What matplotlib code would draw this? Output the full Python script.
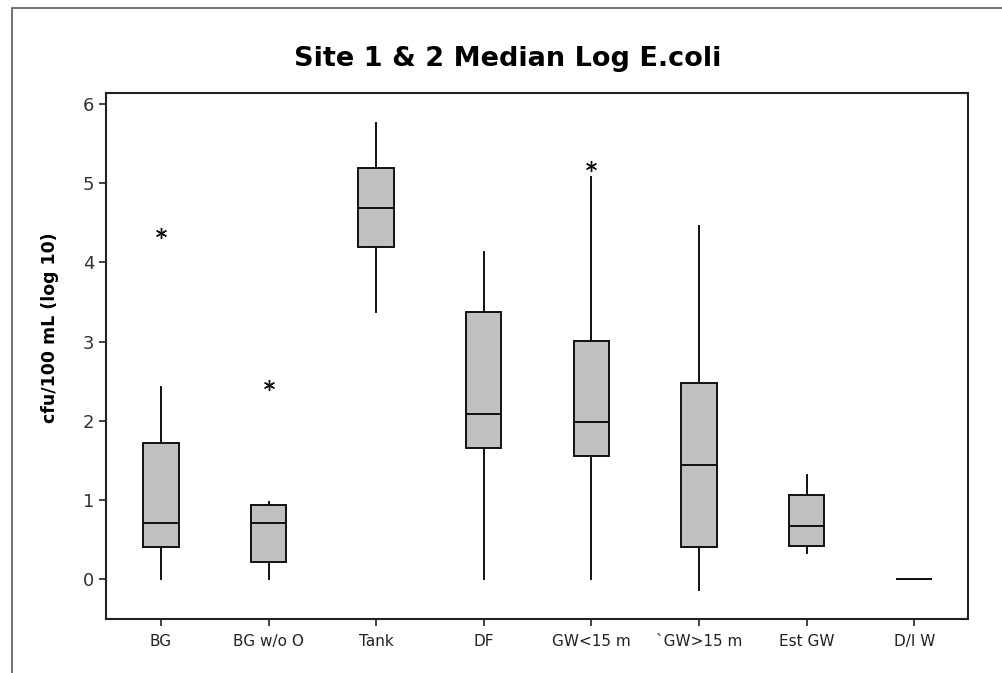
"""
Box plot of median log E.coli counts by source, Site 1 & 2
"""

import matplotlib
matplotlib.use("Agg")
import matplotlib.pyplot as plt
from matplotlib.patches import Rectangle

# ---------------- DATA ----------------
categories = ["BG", "BG w/o O", "Tank", "DF", "GW<15 m", "`GW>15 m", "Est GW", "D/I W"]

whisker_low = [0.00, 0.00, 3.37, 0.00, 0.00, -0.14, 0.33, 0.00]
q1 = [0.40, 0.21, 4.19, 1.65, 1.55, 0.40, 0.42, 0.00]
medians = [0.71, 0.71, 4.69, 2.08, 1.98, 1.44, 0.67, 0.00]
q3 = [1.72, 0.93, 5.19, 3.37, 3.01, 2.48, 1.06, 0.00]
whisker_high = [2.43, 0.97, 5.76, 4.13, 5.08, 4.46, 1.31, 0.00]
outliers = [[4.37], [2.45], [], [], [5.22], [], [], []]

y_ticks = [0, 1, 2, 3, 4, 5, 6]

# ---------------- PLOT ----------------
plt.rcParams["font.family"] = ["DejaVu Sans"]

fig = plt.figure(figsize=(10.03, 6.73), dpi=100)
ax = fig.add_axes([0.1057, 0.0802, 0.8594, 0.7816])

stats = []
for i, name in enumerate(categories):
    stats.append({
        "label": name,
        "whislo": whisker_low[i],
        "q1": q1[i],
        "med": medians[i],
        "q3": q3[i],
        "whishi": whisker_high[i],
        "fliers": outliers[i],
    })

ax.bxp(
    stats,
    positions=range(1, len(categories) + 1),
    widths=0.33,
    showcaps=False,
    patch_artist=True,
    boxprops=dict(facecolor="#c0c0c0", edgecolor="#111111", linewidth=1.4),
    medianprops=dict(color="#111111", linewidth=1.4),
    whiskerprops=dict(color="#111111", linewidth=1.4),
    flierprops=dict(marker=(6, 2, 0), markersize=8, markeredgecolor="#111111",
                    markeredgewidth=1.0, linestyle="none"),
)

ax.set_xlim(0.49, 8.5)
ax.set_ylim(-0.505, 6.14)
ax.set_yticks(y_ticks)
ax.set_yticklabels([str(t) for t in y_ticks], fontsize=13, color="#333333")
ax.set_xticklabels(categories, fontsize=11, color="#222222")
ax.tick_params(axis="both", direction="out", length=5, width=1.2, color="#222222")
ax.tick_params(axis="x", pad=6)

for spine in ax.spines.values():
    spine.set_linewidth(1.5)
    spine.set_color("#222222")

fig.text(0.5065, 0.912, "Site 1 & 2 Median Log E.coli", ha="center", va="center",
         fontsize=19.5, fontweight="bold")
fig.text(0.050, 1 - 328 / 673, "cfu/100 mL (log 10)", ha="center", va="center",
         rotation=90, fontsize=12.5, fontweight="bold")

# outer frame (left and top edges visible, rest runs off the image)
frame = Rectangle((12 / 1003, -0.2), 1.2, 1.2 - 8 / 673, transform=fig.transFigure,
                  fill=False, edgecolor="#666666", linewidth=1.3, clip_on=False)
fig.patches.append(frame)

fig.savefig("out.png", dpi=100)
